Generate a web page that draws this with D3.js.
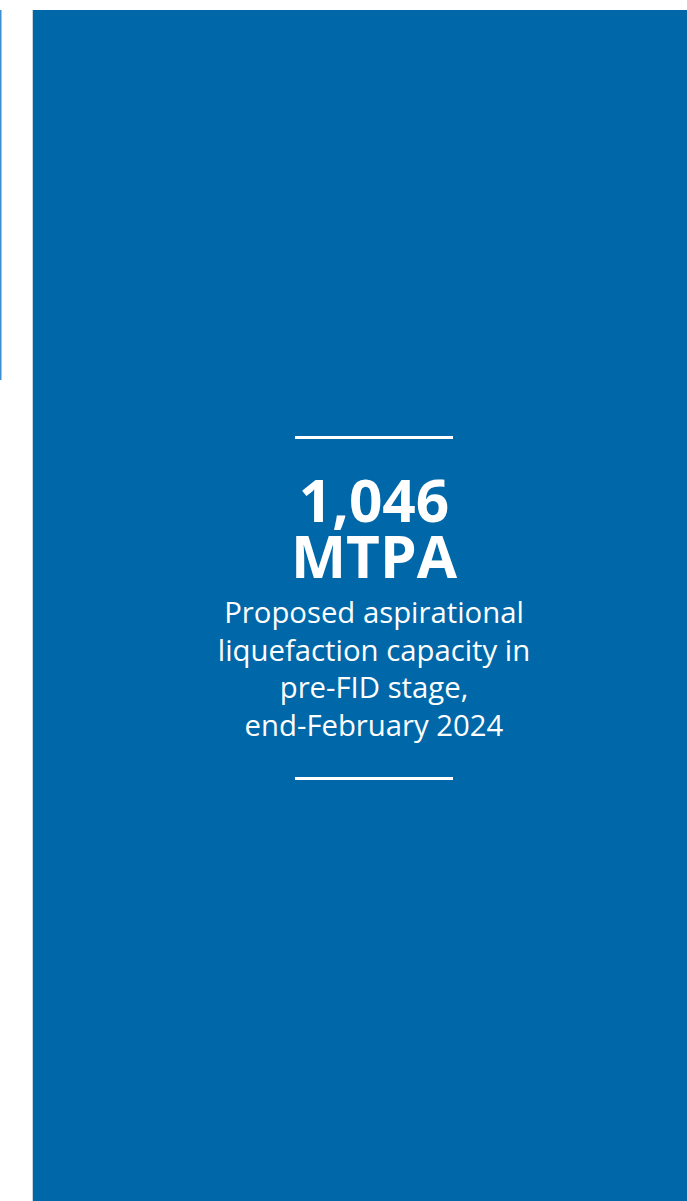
<!DOCTYPE html>
<html>
<head>
<meta charset="utf-8">
<script src="https://cdn.jsdelivr.net/npm/d3@7"></script>
<style>
  html, body { margin: 0; padding: 0; background: #fff; }
  svg { display: block; }
</style>
</head>
<body>
<div id="chart"></div>
<script>
// headline figure and caption
const headline = ['1,046', 'MTPA'];
const caption = [
  'Proposed aspirational',
  'liquefaction capacity in',
  'pre-FID stage,',
  'end-February 2024'
];
const rules = ['top', 'bottom'];

const width = 687;
const height = 1201;
const panel = { x: 33, y: 10 };
const cx = 374;

const svg = d3.select('#chart').append('svg')
    .attr('width', width)
    .attr('height', height);

// neighbouring page edge on the left
svg.append('rect')
    .attr('x', 0).attr('y', 10)
    .attr('width', 1.5).attr('height', 370)
    .attr('fill', '#3d8fd0');

svg.append('rect')
    .attr('x', panel.x - 1).attr('y', panel.y)
    .attr('width', 1).attr('height', height - panel.y)
    .attr('fill', '#c9d3dc');

svg.append('rect')
    .attr('x', panel.x).attr('y', panel.y)
    .attr('width', width - panel.x).attr('height', height - panel.y)
    .attr('fill', '#0068a9');

const ruleY = d3.scaleOrdinal().domain(rules).range([437.5, 778.5]);

svg.append('g')
  .selectAll('line')
    .data(rules)
  .enter().append('line')
    .attr('x1', 295).attr('x2', 453)
    .attr('y1', d => ruleY(d)).attr('y2', d => ruleY(d))
    .attr('stroke', '#fff')
    .attr('stroke-width', 3);

// the big figure is one block of two lines, tight leading
const headY = d3.scalePoint().domain(headline).range([522, 578]);

svg.append('text')
    .attr('text-anchor', 'middle')
    .attr('fill', '#fff')
    .attr('font-family', '"Open Sans", sans-serif')
    .attr('font-weight', 700)
    .attr('font-size', 58.5)
  .selectAll('tspan')
    .data(headline)
  .enter().append('tspan')
    .attr('x', cx)
    .attr('y', d => headY(d))
    .text(d => d);

const capY = d3.scalePoint().domain(caption).range([623, 736]);

svg.append('g')
  .selectAll('text')
    .data(caption)
  .enter().append('text')
    .attr('x', cx)
    .attr('y', d => capY(d))
    .attr('text-anchor', 'middle')
    .attr('fill', '#fff')
    .attr('font-family', '"Open Sans", sans-serif')
    .attr('font-size', 29.3)
    .text(d => d);
</script>
</body>
</html>
